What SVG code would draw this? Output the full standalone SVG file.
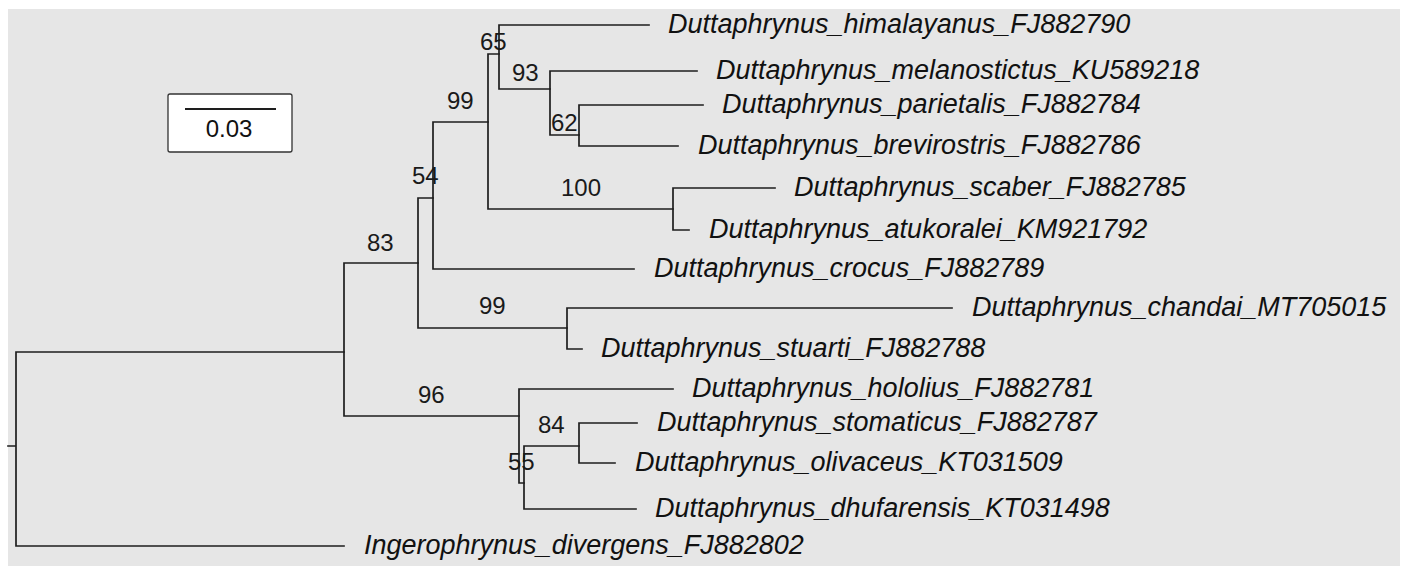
<svg xmlns="http://www.w3.org/2000/svg" width="1406" height="566" viewBox="0 0 1406 566">
<style>
.bg{fill:#e6e6e6}
.br{fill:none;stroke:#1e1e1e;stroke-width:1.7;stroke-linecap:square}
.tx{font-family:"Liberation Sans",Arial,sans-serif;font-style:italic;font-size:27px;fill:#111}
.bs{font-family:"Liberation Sans",Arial,sans-serif;font-size:24px;fill:#1a1a1a}
.sc{font-family:"Liberation Sans",Arial,sans-serif;font-size:24px;fill:#111;text-anchor:middle}
</style>
<rect width="1406" height="566" fill="#ffffff"/>
<rect class="bg" x="8" y="9" width="1392" height="557"/>
<g id="scale">
<rect x="168" y="94" width="124" height="58" rx="2" fill="#ffffff" stroke="#333" stroke-width="1.3"/>
<line x1="185" y1="109" x2="276" y2="109" stroke="#1e1e1e" stroke-width="2"/>
<text class="sc" x="229" y="137">0.03</text>
</g>
<g id="connectors" class="br">
<path d="M8,446H16M16,352V546M16,352H344M16,546H344"/>
<path d="M344,263V416M344,263H418M344,416H519"/>
<path d="M418,198V328M418,198H433M418,328H567"/>
<path d="M433,122V269M433,122H488M433,269H634"/>
<path d="M488,54V209M488,54H499M488,209H673"/>
<path d="M499,25V89M499,25H649M499,89H550"/>
<path d="M550,71V135M550,71H697M550,135H579"/>
<path d="M579,105V146M579,105H703M579,146H678"/>
<path d="M673,188V230M673,188H775M673,230H689"/>
<path d="M567,308V349M567,308H952M567,349H582"/>
<path d="M519,389V483M519,389H673M519,483H524"/>
<path d="M524,446V509M524,446H579M524,509H636"/>
<path d="M579,423V463M579,423H637M579,463H615"/>
</g>
<g id="n65"><text class="bs" x="480" y="50">65</text></g>
<g id="n93"><text class="bs" x="512" y="81">93</text></g>
<g id="n62"><text class="bs" x="551" y="131">62</text></g>
<g id="n99a"><text class="bs" x="447" y="109">99</text></g>
<g id="n100"><text class="bs" x="561" y="196">100</text></g>
<g id="n54"><text class="bs" x="412" y="184">54</text></g>
<g id="n83"><text class="bs" x="367" y="251">83</text></g>
<g id="n99b"><text class="bs" x="479" y="314">99</text></g>
<g id="n96"><text class="bs" x="418" y="403">96</text></g>
<g id="n84"><text class="bs" x="538" y="433">84</text></g>
<g id="n55"><text class="bs" x="508" y="470">55</text></g>
<g id="t_himalayanus"><text class="tx" x="668" y="33">Duttaphrynus_himalayanus_FJ882790</text></g>
<g id="t_melanostictus"><text class="tx" x="716" y="79">Duttaphrynus_melanostictus_KU589218</text></g>
<g id="t_parietalis"><text class="tx" x="722" y="113">Duttaphrynus_parietalis_FJ882784</text></g>
<g id="t_brevirostris"><text class="tx" x="698" y="154">Duttaphrynus_brevirostris_FJ882786</text></g>
<g id="t_scaber"><text class="tx" x="794" y="196">Duttaphrynus_scaber_FJ882785</text></g>
<g id="t_atukoralei"><text class="tx" x="709" y="238">Duttaphrynus_atukoralei_KM921792</text></g>
<g id="t_crocus"><text class="tx" x="654" y="277">Duttaphrynus_crocus_FJ882789</text></g>
<g id="t_chandai"><text class="tx" x="972" y="316">Duttaphrynus_chandai_MT705015</text></g>
<g id="t_stuarti"><text class="tx" x="601" y="357">Duttaphrynus_stuarti_FJ882788</text></g>
<g id="t_hololius"><text class="tx" x="692" y="397">Duttaphrynus_hololius_FJ882781</text></g>
<g id="t_stomaticus"><text class="tx" x="657" y="431">Duttaphrynus_stomaticus_FJ882787</text></g>
<g id="t_olivaceus"><text class="tx" x="635" y="471">Duttaphrynus_olivaceus_KT031509</text></g>
<g id="t_dhufarensis"><text class="tx" x="655" y="517">Duttaphrynus_dhufarensis_KT031498</text></g>
<g id="t_ingerophrynus"><text class="tx" x="364" y="554">Ingerophrynus_divergens_FJ882802</text></g>
</svg>
